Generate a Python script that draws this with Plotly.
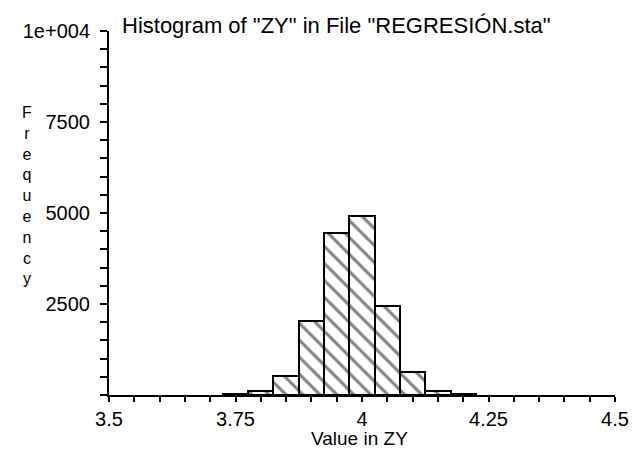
import plotly.graph_objects as go

# Data
bin_centers = [3.75, 3.80, 3.85, 3.90, 3.95, 4.00, 4.05, 4.10, 4.15, 4.20]
frequencies = [30, 110, 520, 2030, 4440, 4920, 2450, 640, 110, 30]
bin_width = 0.05

x_tickvals = [3.5, 3.75, 4.0, 4.25, 4.5]
x_ticktext = ["3.5", "3.75", "4", "4.25", "4.5"]
y_tickvals = [2500, 5000, 7500, 10000]
y_ticktext = ["2500", "5000", "7500", "1e+004"]

FONT = "Liberation Sans, Arial, sans-serif"
FS = 20

fig = go.Figure()
fig.add_trace(go.Bar(
    x=bin_centers,
    y=frequencies,
    width=bin_width,
    marker=dict(
        color="white",
        line=dict(color="black", width=2),
        pattern=dict(shape="\\", fgcolor="black", bgcolor="white",
                     size=12, solidity=0.25, fillmode="overlay"),
    ),
    showlegend=False,
))

fig.update_layout(
    width=641, height=451,
    margin=dict(l=109, r=18, t=31, b=56),
    paper_bgcolor="white", plot_bgcolor="white",
    font=dict(family=FONT, size=FS, color="black"),
    bargap=0,
    xaxis=dict(
        range=[3.5, 4.5],
        tickvals=x_tickvals, ticktext=x_ticktext,
        ticks="outside", ticklen=5, tickwidth=2, tickcolor="black",
        minor=dict(dtick=0.05, tick0=3.5, ticks="outside", ticklen=5,
                   tickwidth=2, tickcolor="black"),
        showline=True, linecolor="black", linewidth=2,
        showgrid=False, zeroline=False,
        tickfont=dict(size=FS),
    ),
    yaxis=dict(
        range=[0, 10000],
        tickvals=y_tickvals, ticktext=y_ticktext,
        ticks="outside", ticklen=7, tickwidth=2, tickcolor="black",
        minor=dict(dtick=500, tick0=0, ticks="outside", ticklen=7,
                   tickwidth=2, tickcolor="black"),
        showline=True, linecolor="black", linewidth=2,
        showgrid=False, zeroline=False,
        tickfont=dict(size=FS),
        ticklabelstandoff=6,
    ),
    annotations=[
        dict(text='Histogram of "ZY" in File "REGRESIÓN.sta"',
             xref="paper", yref="paper", x=0.0214, y=1.014,
             xanchor="left", yanchor="middle", showarrow=False,
             font=dict(size=22)),
        dict(text="<br>".join(list("Frequency")),
             xref="paper", yref="paper", x=-0.1615, y=0.549,
             xanchor="center", yanchor="middle", showarrow=False,
             font=dict(size=16)),
        dict(text="Value in ZY",
             xref="paper", yref="paper", x=0.495, y=-0.1538,
             xanchor="center", yanchor="bottom", showarrow=False,
             font=dict(size=19)),
    ],
)

fig.write_html("out.html", config={"displayModeBar": False},
               post_script="document.body.style.margin='0';")
